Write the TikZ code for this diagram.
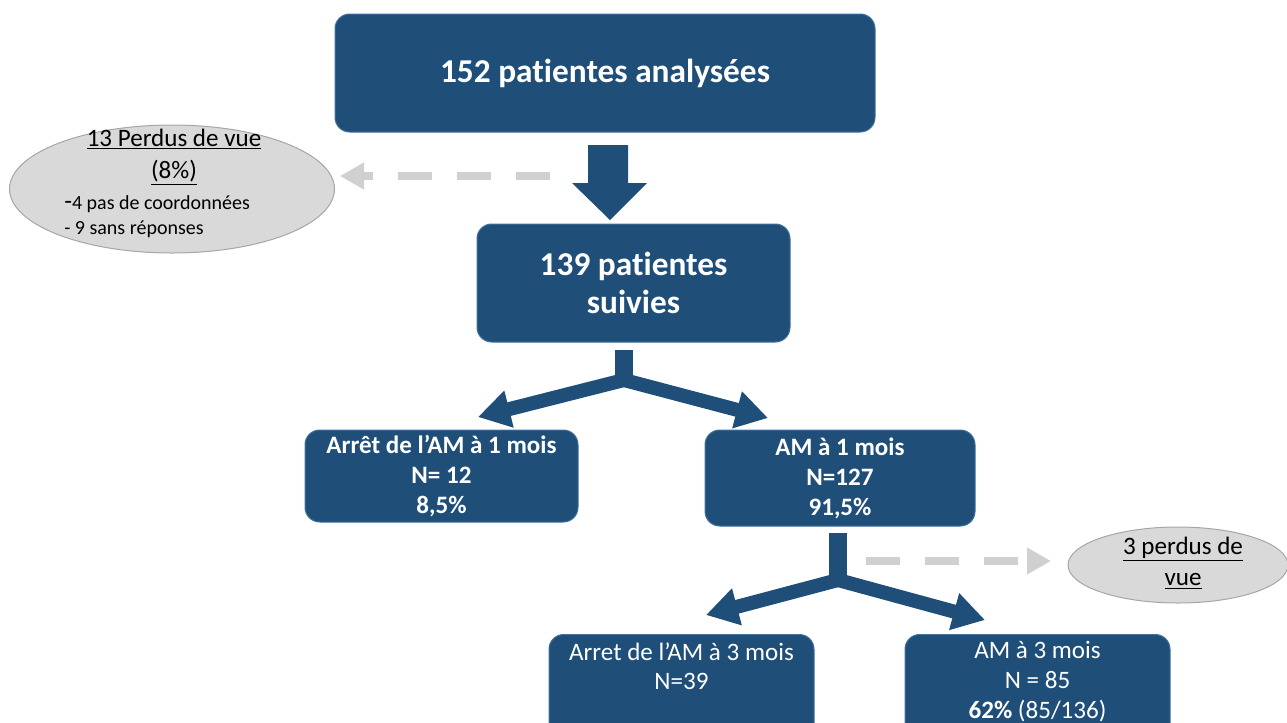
\documentclass[tikz,border=0pt]{standalone}
\usepackage{fontspec}
\setmainfont{Carlito}[Ligatures=NoCommon]
\usetikzlibrary{arrows.meta,shapes.geometric}
\definecolor{navy}{HTML}{1F4E79}
\definecolor{navyedge}{HTML}{41719C}
\definecolor{lgray}{HTML}{D9D9D9}
\definecolor{egray}{HTML}{A6A6A6}
\definecolor{dgray}{HTML}{D0D0D0}
\tikzset{
  bluebox/.style={draw=navyedge, line width=0.75pt, fill=navy, rounded corners=11pt, inner sep=0pt},
  boxtext/.style={text=white, align=center, inner sep=0pt},
  grayell/.style={ellipse, draw=egray, line width=0.75pt, fill=lgray, inner sep=0pt},
  flow/.style={draw=navy, line width=10.5pt, -{Triangle[width=27pt,length=24pt]}},
  stem/.style={draw=navy, line width=13.5pt},
  lost/.style={draw=dgray, line width=6.5pt, dash pattern=on 25.5pt off 18.75pt, -{Triangle[width=19pt,length=18pt]}},
}
\begin{document}
\begin{tikzpicture}[x=0.75pt,y=-0.75pt]
\useasboundingbox (0,0) rectangle (1287,722);
\clip (0,0) rectangle (1287,722);

% main boxes
\node[bluebox, minimum width=405pt, minimum height=88.5pt] (b1) at (605,73) {};
\node[boxtext, font=\fontsize{25}{28.5}\selectfont\bfseries] at (b1) {152 patientes analysées};

\node[bluebox, minimum width=234.75pt, minimum height=88.5pt] (b2) at (633.5,283) {};
\node[boxtext, font=\fontsize{25}{28.5}\selectfont\bfseries] at (b2) {139 patientes\\suivies};

\node[bluebox, minimum width=204.75pt, minimum height=69pt] (b3) at (441.5,476) {};
\node[boxtext, font=\fontsize{18.8}{22.5}\selectfont\bfseries] at (b3) {Arrêt de l’AM à 1 mois\\N= 12\\8,5\%};

\node[bluebox, minimum width=202.5pt, minimum height=72pt] (b4) at (840,478) {};
\node[boxtext, font=\fontsize{18.8}{22.5}\selectfont\bfseries] at (b4) {AM à 1 mois\\N=127\\91,5\%};

\node[bluebox, minimum width=198.75pt, minimum height=82.5pt, anchor=north] (b5) at (681.5,634) {};
\node[boxtext, font=\fontsize{18.8}{21.5}\selectfont] at (681.5,666) {Arret de l’AM à 3 mois\\N=39};

\node[bluebox, minimum width=198.75pt, minimum height=82.5pt, anchor=north] (b6) at (1037.5,634) {};
\node[boxtext, font=\fontsize{18.8}{22.5}\selectfont] at (1037.5,682) {AM à 3 mois\\N = 85\\\textbf{62\%} (85/136)};

% lost-to-follow-up ellipses
\node[grayell, minimum width=243.75pt, minimum height=96pt] (e1) at (172,189) {};
\node[inner sep=0pt, font=\fontsize{18.8}{24}\selectfont, align=center] at (174,157) {\underline{13 Perdus de vue}\\\underline{(8\%)}};
\node[inner sep=0pt, anchor=west, font=\fontsize{15}{18.75}\selectfont, align=left] at (64,217) {{\fontsize{19}{19}\selectfont -}4 pas de coordonnées\\- 9 sans réponses};

\node[grayell, minimum width=165pt, minimum height=57pt] (e2) at (1178,565) {};
\node[inner sep=0pt, font=\fontsize{18.8}{23.25}\selectfont, align=center] at (1183,563) {\underline{3 perdus de}\\\underline{vue}};

% block arrow down between b1 and b2
\fill[navy] (588,145) -- (628,145) -- (628,183) -- (647,183) -- (610,220) -- (572,183) -- (588,183) -- cycle;

% dashed arrows to the lost nodes
\coordinate (d1s) at (550,176);
\coordinate (d1e) at (340,176);
\draw[lost] (d1s) -- (d1e);
\coordinate (d2s) at (866,561);
\coordinate (d2e) at (1051,561);
\draw[lost] (d2s) -- (d2e);

% split arrow 1
\coordinate (s1) at (624,350);
\coordinate (j1) at (624,380);
\coordinate (t1l) at (478,417);
\coordinate (t1r) at (768,418);
\draw[stem] (s1) -- (624,383);
\draw[flow] (j1) -- (t1l);
\draw[flow] (j1) -- (t1r);

% split arrow 2
\coordinate (s2) at (838,533);
\coordinate (j2) at (838,580);
\coordinate (t2l) at (706,615);
\coordinate (t2r) at (985,620);
\draw[stem] (s2) -- (838,583);
\draw[flow] (j2) -- (t2l);
\draw[flow] (j2) -- (t2r);
\end{tikzpicture}
\end{document}
